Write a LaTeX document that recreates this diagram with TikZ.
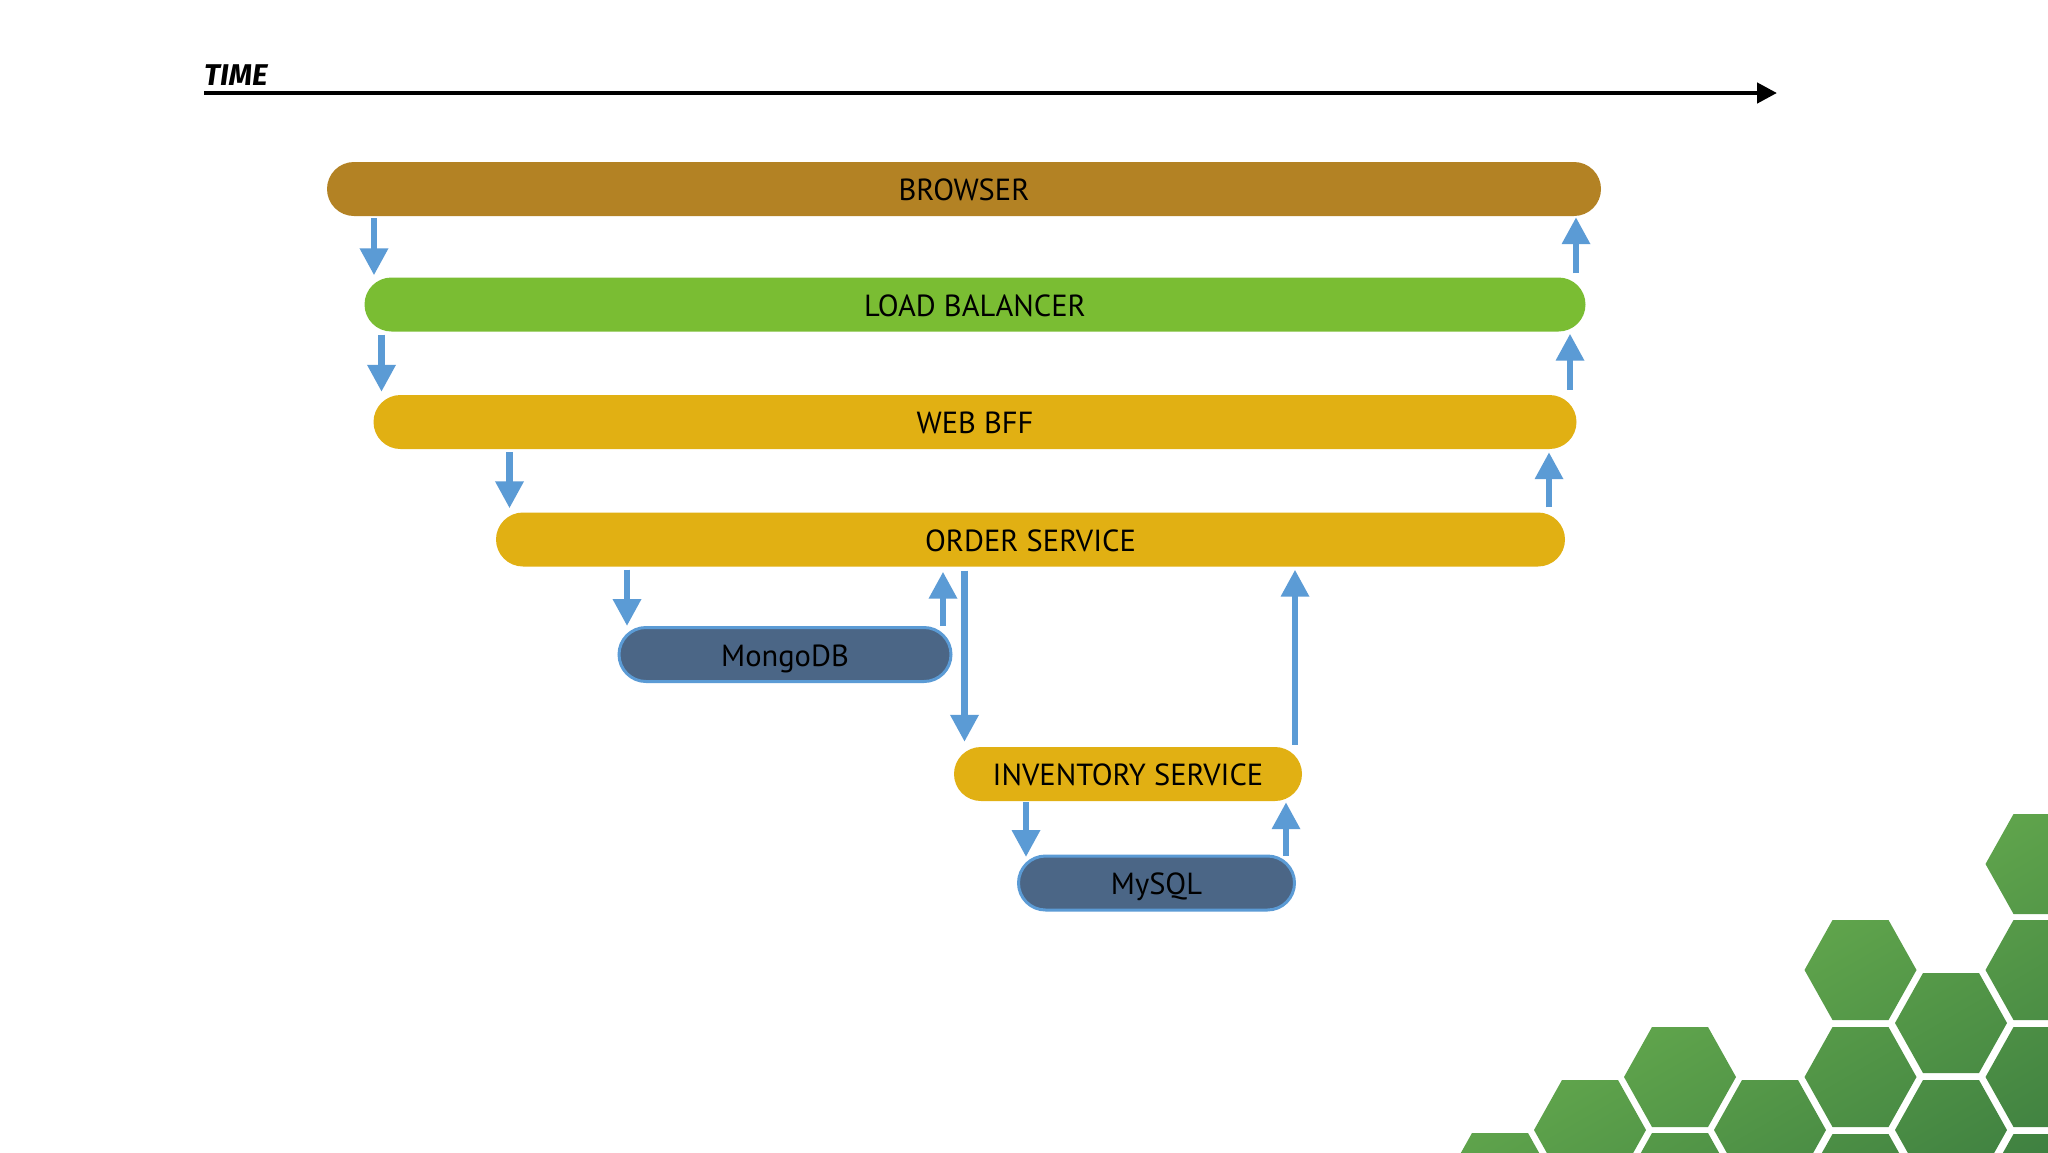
\documentclass[tikz,border=0pt]{standalone}
\usepackage{fontspec}
\setmainfont{PT Sans}
\newfontfamily\timefont{Fira Sans}
\usetikzlibrary{arrows.meta,shapes.misc}
\definecolor{browserc}{HTML}{B38224}
\definecolor{lbc}{HTML}{7ABD33}
\definecolor{svcc}{HTML}{E1B013}
\definecolor{dbc}{HTML}{4B6686}
\definecolor{linkc}{HTML}{5B9BD5}
\definecolor{hexlight}{HTML}{6EB451}
\definecolor{hexdark}{HTML}{33733C}
\pgfdeclareverticalshading{hexshade}{100bp}{color(0bp)=(hexdark); color(23bp)=(hexdark); color(66bp)=(hexlight); color(100bp)=(hexlight)}
\newcommand{\hx}[2]{({#1-56},{#2}) -- ({#1-28},{#2-50}) -- ({#1+28},{#2-50}) -- ({#1+56},{#2}) -- ({#1+28},{#2+50}) -- ({#1-28},{#2+50}) -- cycle }
\tikzset{
  bar/.style={rounded rectangle,inner sep=0pt,minimum height=54pt,text=black,font=\fontsize{30.5}{38}\selectfont,text height=26.5pt,text depth=3.5pt},
  db/.style={bar,draw=linkc,line width=3pt,fill=dbc,minimum height=54pt},
  conn/.style={draw=linkc,line width=6.5pt,-{Triangle[width=27pt,length=27pt]}},
  timeline/.style={draw=black,line width=4.5pt,-{Triangle[width=20pt,length=20pt]}}
}
\begin{document}
\begin{tikzpicture}[x=1pt,y=-1pt]
\useasboundingbox (0,0) rectangle (2048,1152);
\fill[white] (0,0) rectangle (2048,1152);
% time axis
\coordinate (t0) at (204,93);
\coordinate (t1) at (1777,93);
\draw[timeline] (t0) -- (t1);
\node[anchor=west,inner sep=0pt,font=\timefont\bfseries\itshape\fontsize{30}{34}\selectfont] (time) at (204,75) {TIME};
% bars
\node[bar,fill=browserc,minimum width=1274pt] (browser) at (964,189) {BROWSER};
\node[bar,fill=lbc,minimum width=1221pt] (lb) at (975,304.5) {LOAD BALANCER};
\node[bar,fill=svcc,minimum width=1203pt] (bff) at (975,422) {WEB BFF};
\node[bar,fill=svcc,minimum width=1069pt] (order) at (1030.5,539.5) {ORDER SERVICE};
\node[db,minimum width=332pt] (mongo) at (785,654.5) {MongoDB};
\node[bar,fill=svcc,minimum width=348pt] (inv) at (1128,774) {INVENTORY SERVICE};
\node[db,minimum width=276pt] (mysql) at (1156.5,883) {MySQL};
% connectors
\draw[conn] ([xshift=-590pt,yshift=-2pt]browser.south) -- ([xshift=-601pt,yshift=2pt]lb.north);
\draw[conn] ([xshift=-593.5pt,yshift=-3pt]lb.south) -- ([xshift=-593.5pt,yshift=3pt]bff.north);
\draw[conn] ([xshift=-465.5pt,yshift=-3pt]bff.south) -- ([xshift=-521pt,yshift=4pt]order.north);
\draw[conn] ([xshift=-403.5pt,yshift=-3pt]order.south) -- ([xshift=-158pt,yshift=0pt]mongo.north);
\draw[conn] ([xshift=158pt,yshift=0pt]mongo.north) -- ([xshift=-87.5pt,yshift=-5pt]order.south);
\draw[conn] ([xshift=-66pt,yshift=-4pt]order.south) -- ([xshift=-163.5pt,yshift=5pt]inv.north);
\draw[conn] ([xshift=167pt,yshift=2pt]inv.north) -- ([xshift=264.5pt,yshift=-3pt]order.south);
\draw[conn] ([xshift=-102pt,yshift=-1pt]inv.south) -- ([xshift=-130.5pt,yshift=-2.5pt]mysql.north);
\draw[conn] ([xshift=129.5pt,yshift=-1pt]mysql.north) -- ([xshift=158pt,yshift=-1pt]inv.south);
\draw[conn] ([xshift=518.5pt,yshift=5pt]order.north) -- ([xshift=574pt,yshift=-3pt]bff.south);
\draw[conn] ([xshift=595pt,yshift=5pt]bff.north) -- ([xshift=595pt,yshift=-2pt]lb.south);
\draw[conn] ([xshift=601pt,yshift=4pt]lb.north) -- ([xshift=612pt,yshift=-1pt]browser.south);
% hexagons
\begin{scope}
\clip \hx{2041.5}{864} \hx{2041.5}{970} \hx{2041.5}{1077} \hx{2041.5}{1184}
      \hx{1951}{1023} \hx{1951}{1130}
      \hx{1860.5}{970} \hx{1860.5}{1077} \hx{1860.5}{1184}
      \hx{1770}{1130} \hx{1680}{1077} \hx{1680}{1183}
      \hx{1590}{1130} \hx{1500}{1183};
\shade[shading=hexshade,shading angle=30] (1400,730) rectangle (2060,1390);
\end{scope}
\end{tikzpicture}
\end{document}
